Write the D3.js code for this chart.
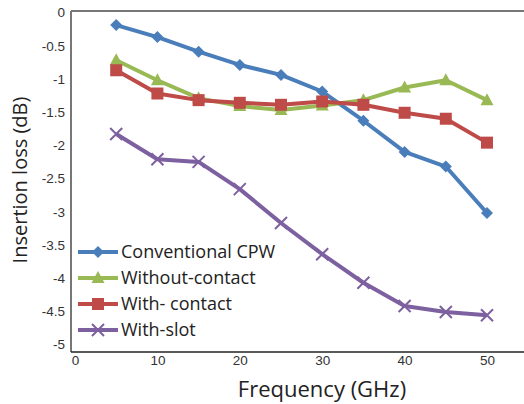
<!DOCTYPE html>
<html>
<head>
<meta charset="utf-8">
<script src="https://cdn.jsdelivr.net/npm/d3@7/dist/d3.min.js"></script>
<style>
  body { margin: 0; background: #fff; }
  svg { display: block; font-family: 'Open Sans', sans-serif; }
  .tick text { fill: #333; font-size: 13.5px; }
</style>
</head>
<body>
<svg id="chart" width="524" height="404"></svg>
<script>
'use strict';

var freq = [5, 10, 15, 20, 25, 30, 35, 40, 45, 50];
var conventionalCPW = [-0.19, -0.37, -0.59, -0.79, -0.94, -1.19, -1.63, -2.10, -2.32, -3.02];
var withoutContact = [-0.72, -1.02, -1.29, -1.41, -1.47, -1.40, -1.32, -1.13, -1.02, -1.32];
var withContact = [-0.87, -1.22, -1.32, -1.36, -1.39, -1.34, -1.39, -1.51, -1.60, -1.96];
var withSlot = [-1.83, -2.21, -2.25, -2.66, -3.17, -3.64, -4.07, -4.42, -4.51, -4.56];

var xTicks = [0, 10, 20, 30, 40, 50];
var yTicks = [0, -0.5, -1, -1.5, -2, -2.5, -3, -3.5, -4, -4.5, -5];

var series = [
  { name: 'Conventional CPW', values: conventionalCPW, color: '#4a7ebb', marker: 'diamond' },
  { name: 'Without-contact', values: withoutContact, color: '#98b954', marker: 'triangle' },
  { name: 'With- contact', values: withContact, color: '#be4b48', marker: 'square' },
  { name: 'With-slot', values: withSlot, color: '#7d60a0', marker: 'cross' }
];

var svg = d3.select('#chart');

var x = d3.scaleLinear().domain([0, 50]).range([75, 487]);
var y = d3.scaleLinear().domain([0, -5]).range([12.5, 344.5]);

var axisLeftX = 71,
    axisBottomY = 352,
    topY = 11;

// frame: top border, left and bottom axes
svg.append('line')
  .attr('x1', axisLeftX).attr('x2', 524)
  .attr('y1', topY).attr('y2', topY)
  .attr('stroke', '#777').attr('stroke-width', 2);

svg.append('line')
  .attr('x1', axisLeftX).attr('x2', axisLeftX)
  .attr('y1', topY).attr('y2', axisBottomY)
  .attr('stroke', '#777').attr('stroke-width', 2);

svg.append('line')
  .attr('x1', axisLeftX).attr('x2', 524)
  .attr('y1', axisBottomY).attr('y2', axisBottomY)
  .attr('stroke', '#222').attr('stroke-width', 1.5);

var yAxis = svg.append('g')
  .attr('transform', 'translate(' + axisLeftX + ',0)')
  .call(d3.axisLeft(y).tickValues(yTicks).tickSize(0).tickPadding(6)
    .tickFormat(function (d) { return d3.format('')(d).replace('−', '-'); }));
yAxis.select('.domain').remove();

var xAxis = svg.append('g')
  .attr('transform', 'translate(0,' + axisBottomY + ')')
  .call(d3.axisBottom(x).tickValues(xTicks).tickSize(0).tickPadding(3));
xAxis.select('.domain').remove();

svg.append('text')
  .attr('x', 322).attr('y', 397)
  .attr('text-anchor', 'middle')
  .attr('font-size', 22).attr('fill', '#222')
  .text('Frequency (GHz)');

svg.append('text')
  .attr('transform', 'translate(27,180) rotate(-90)')
  .attr('text-anchor', 'middle')
  .attr('font-size', 20).attr('fill', '#222')
  .text('Insertion loss (dB)');

function drawMarker(g, type, color) {
  switch (type) {
    case 'diamond':
      g.append('path').attr('d', 'M0,-6L6,0L0,6L-6,0Z').attr('fill', color);
      break;
    case 'triangle':
      g.append('path').attr('d', 'M0,-7L6.5,5L-6.5,5Z').attr('fill', color);
      break;
    case 'square':
      g.append('rect').attr('x', -6).attr('y', -6).attr('width', 12).attr('height', 12).attr('fill', color);
      break;
    case 'cross':
      g.append('path').attr('d', 'M-6,-6L6,6M-6,6L6,-6')
        .attr('stroke', color).attr('stroke-width', 2).attr('fill', 'none');
      break;
  }
}

var line = d3.line()
  .x(function (d, i) { return x(freq[i]); })
  .y(function (d) { return y(d); });

series.forEach(function (s) {
  svg.append('path')
    .datum(s.values)
    .attr('d', line)
    .attr('fill', 'none')
    .attr('stroke', s.color)
    .attr('stroke-width', 4)
    .attr('stroke-linejoin', 'round');

  s.values.forEach(function (v, i) {
    var g = svg.append('g').attr('transform', 'translate(' + x(freq[i]) + ',' + y(v) + ')');
    drawMarker(g, s.marker, s.color);
  });
});

// legend
var legend = svg.append('g');
series.forEach(function (s, i) {
  var ly = 252 + i * 26;
  legend.append('line')
    .attr('x1', 78).attr('x2', 118)
    .attr('y1', ly).attr('y2', ly)
    .attr('stroke', s.color).attr('stroke-width', 4);
  drawMarker(legend.append('g').attr('transform', 'translate(98,' + ly + ')'), s.marker, s.color);
  legend.append('text')
    .attr('x', 121).attr('y', ly)
    .attr('dy', '0.35em')
    .attr('font-size', 18).attr('fill', '#222')
    .text(s.name);
});
</script>
</body>
</html>
